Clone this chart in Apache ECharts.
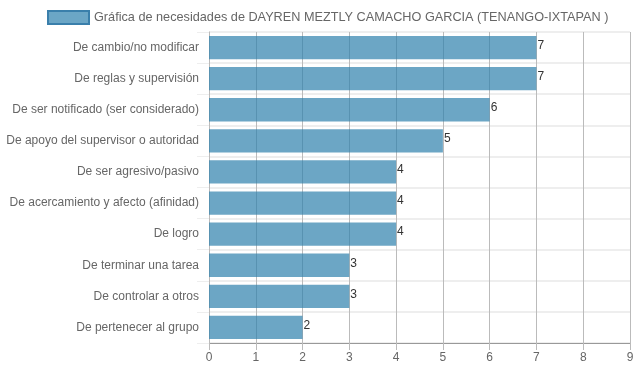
<!DOCTYPE html>
<html><head><meta charset="utf-8">
<script src="https://cdn.jsdelivr.net/npm/echarts@6/dist/echarts.min.js"></script>
<style>html,body{margin:0;padding:0;background:#fff}#c{width:637px;height:371px}</style>
</head><body><div id="c"></div>
<script>
const categories = ["De cambio/no modificar","De reglas y supervisión","De ser notificado (ser considerado)","De apoyo del supervisor o autoridad","De ser agresivo/pasivo","De acercamiento y afecto (afinidad)","De logro","De terminar una tarea","De controlar a otros","De pertenecer al grupo"];
const values = [7,7,6,5,4,4,4,3,3,2];
const seriesName = "Gráfica de necesidades de DAYREN MEZTLY CAMACHO GARCIA (TENANGO-IXTAPAN )";
const xTicks = [0,1,2,3,4,5,6,7,8,9];

const chart = echarts.init(document.getElementById('c'));
chart.setOption({
  animation:false,
  textStyle:{fontFamily:'Arial, "Liberation Sans", sans-serif'},
  legend:{
    top:10, left:47, padding:0, itemWidth:41, itemHeight:13, itemGap:5, icon:'rect',
    textStyle:{color:'#666',fontSize:12.7},
    data:[{name:seriesName, icon:'rect', itemStyle:{color:'rgba(107,166,198,1)',borderColor:'#3a7fab',borderWidth:2}}]
  },
  grid:{left:209, right:7, top:32, bottom:28, containLabel:false},
  xAxis:{
    type:'value', min:0, max:9, interval:1,
    axisLine:{show:true,lineStyle:{color:'#999'}},
    axisTick:{show:true,length:7,lineStyle:{color:'#bbb'}},
    axisLabel:{color:'#666',fontSize:12,margin:9},
    splitLine:{show:true,lineStyle:{color:'#bbb',width:1}}
  },
  yAxis:{
    type:'category', inverse:true, data:categories,
    axisLine:{show:true,lineStyle:{color:'#bbb'}},
    axisTick:{show:true,length:12,lineStyle:{color:'#eee'}},
    axisLabel:{color:'#666',fontSize:12,margin:10},
    splitLine:{show:true,lineStyle:{color:'#eee',width:2}}
  },
  series:[{
    name:seriesName, type:'bar', data:values,
    barCategoryGap:'25%',
    itemStyle:{color:'rgba(46,128,172,0.7)'},
    label:{show:true,position:'right',distance:1,color:'#333',fontSize:12,offset:[0,-2]}
  }]
});
</script></body></html>
